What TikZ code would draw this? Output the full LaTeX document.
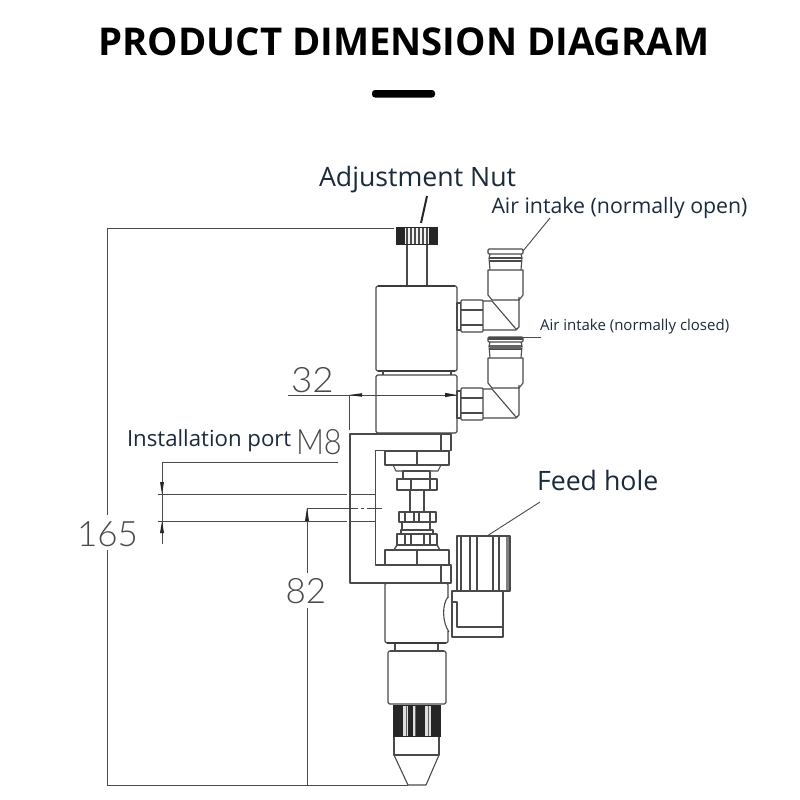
\documentclass[tikz,border=0pt]{standalone}
\usepackage{fontspec}
\setmainfont{Open Sans}
\newfontfamily\cadfont{Lato Light}
\usetikzlibrary{calc}
\definecolor{lbl}{HTML}{1B2B3F}
\definecolor{cad}{HTML}{4A4A4A}
\tikzset{
  part/.style={draw=cad,line width=1.1pt,line join=round},
  partfill/.style={part,fill=white},
  dim/.style={draw=cad,line width=1pt},
  thick part/.style={draw=cad!80!black,line width=2pt},
  tip/.style={fill=black!85},
  stripe/.style={fill=white!75!gray},
  leader/.style={draw=cad,line width=.9pt},
  label/.style={anchor=base west,inner sep=0pt,outer sep=0pt,text=lbl},
  cadtext/.style={anchor=base west,inner sep=0pt,outer sep=0pt,text=cad,font=\cadfont\fontsize{35}{35}\selectfont},
}
\begin{document}
\begin{tikzpicture}[x=1pt,y=-1pt]
\useasboundingbox (0,0) rectangle (800,800);
\fill[white] (0,0) rectangle (800,800);
% title
\node[anchor=base,inner sep=0pt,font=\bfseries\fontsize{38.3}{38.3}\selectfont] (title) at (404,55.5) {PRODUCT DIMENSION DIAGRAM};
\fill[black,rounded corners=3pt] (372,90) rectangle (435,97.5);
% labels
\node[label,font=\fontsize{26.7}{26.7}\selectfont] (adj) at (319,186) {Adjustment Nut};
\node[label,font=\fontsize{21.3}{21.3}\selectfont] (open) at (491.5,213) {Air intake (normally open)};
\node[label,font=\fontsize{15}{15}\selectfont] (closed) at (540,330) {Air intake (normally closed)};
\node[label,font=\fontsize{26.7}{26.7}\selectfont] (feed) at (537,490) {Feed hole};
\node[label,font=\fontsize{22.2}{22.2}\selectfont] (inst) at (127,446) {Installation port};
% CAD text
\node[cadtext] (d165) at (77,546) {165};
\node[cadtext] (d82) at (285.5,603) {82};
\node[cadtext,xscale=1.05] (d32) at (291,392) {32};
\node[cadtext,xscale=.88] (m8) at (296,454) {M8};
% leaders
\coordinate (adjA) at (427,196); \coordinate (adjB) at (421,223);
\draw[leader,line width=2pt,draw=black!85] (adjA) -- (adjB);
\coordinate (openA) at (550,218); \coordinate (openB) at (523,251);
\draw[leader] (openA) -- (openB);
\coordinate (closedA) at (541,337); \coordinate (closedB) at (523,337);
\draw[leader] (closedA) -- (closedB);
\coordinate (feedA) at (540,502); \coordinate (feedB) at (487,536);
\draw[leader] (feedA) -- (feedB);
% dimension 165
\draw[dim] (394,228) -- (107,228) -- (107,515);
\draw[dim] (107,550) -- (107,785) -- (408,785);
% dimension 32
\draw[dim] (288,395) -- (457,395);
\draw[dim] (349,395) -- (349,430);
\fill[tip] (349,395) -- (362,393.2) -- (362,396.8) -- cycle;
\fill[tip] (457,395) -- (445,392.8) -- (445,397.2) -- cycle;
% M8 dimension
\draw[dim] (338,462) -- (162,462) -- (162,544);
\draw[dim] (158,494) -- (347,494);
\draw[dim] (158,521) -- (347,521);
\draw[dim] (350,494) -- (376,494);
\draw[dim] (350,521) -- (376,521);
\fill[tip] (162,494) -- (160,482) -- (164,482) -- cycle;
\fill[tip] (162,521) -- (160,533) -- (164,533) -- cycle;
% 82 dimension
\draw[dim] (307,573) -- (307,508) -- (343,508);
\draw[dim] (343,508) -- (358,508) (361,508) -- (364,508) (367,508) -- (382,508);
\draw[dim] (307,608) -- (307,785);
\fill[tip] (307,508) -- (305,521) -- (309,521) -- cycle;
% adjustment nut
\fill[black!85] (396,227) rectangle (438,245);
\fill[white!90!gray] (405,228) rectangle (429,244);
\foreach \x in {406,410,414,418,422,426} \fill[black!70] (\x,228) rectangle (\x+1.6,244);
% stem
\draw[part] (407,245) -- (407,286) (427,245) -- (427,286);
% upper body
\draw[part,rounded corners=1.5pt] (376,286) rectangle (457,371);
\draw[thick part] (378,370.5) -- (455,370.5);
\draw[thick part,line width=1.5pt] (378,286) -- (455,286);
\draw[part] (383,371) -- (383,375) (451,371) -- (451,375);
% lower body
\draw[part,rounded corners=1.5pt] (376,375) rectangle (457,433);
\draw[thick part,draw=cad!70,line width=2.5pt] (378,433) -- (455,433);
% elbow fittings
\foreach \dy in {0,88}{
  \begin{scope}[shift={(0,\dy)}]
    \draw[part] (457,303) rectangle (461,330);
    \draw[partfill,rounded corners=1pt] (461,300) rectangle (483,332);
    \draw[part] (461,310) -- (483,310) (461,325) -- (483,325);
    \draw[part] (483,301) -- (492,301) -- (516,329) (483,330) -- (516,330) -- (519,327) -- (519,297);
    \draw[part] (488,270) -- (488,295) -- (492,300) -- (519,300) -- (523,295) -- (523,270) -- cycle;
    \draw[part] (490,270) -- (489,258) (521,270) -- (522,258);
    \draw[part,line width=1.5pt] (489,258) -- (522,258) (489,261) -- (522,261);
    \draw[part] (490,254) -- (489,258) (521,254) -- (522,258);
    \draw[part,rounded corners=1pt] (488,249) rectangle (523,254);
  \end{scope}
}
\fill[cad] (488,336.5) rectangle (523,339.5);
\fill[cad!85] (490,345) rectangle (521,349);
% mounting frame
\draw[part] (350,434) -- (451,434) -- (451,450.5) -- (375.7,450.5) -- (375.7,565) -- (451,565) -- (451,583) -- (350,583) -- cycle;
\draw[part] (441,434) -- (441,450.5) (441,565) -- (441,583);
% upper flange
\draw[part] (385,451) rectangle (449,465);
\draw[part] (417,451) -- (417,465);
\draw[part] (393,465) -- (441,465) -- (438,471) -- (396,471) -- cycle;
\draw[part] (403,471) rectangle (430,479);
\draw[part] (397,479) rectangle (437,490);
\draw[part] (411,479) -- (411,490) (430,479) -- (430,490);
\draw[part] (410,490) -- (410,512) (424,490) -- (424,512);
% lower nut
\draw[part] (399,512) rectangle (436,522);
\draw[part] (405,512) -- (405,522) (414,512) -- (414,522) (419,512) -- (419,522) (430,512) -- (430,522);
\draw[part] (402,522) rectangle (430,530);
\draw[part] (401,530) rectangle (433,534);
\draw[part,line width=1.5pt] (397,534) rectangle (437,545);
\draw[part] (405,534) -- (405,545) (411,534) -- (411,545) (424,534) -- (424,545) (430,534) -- (430,545);
\draw[part,line width=1.4pt] (397,545) -- (437,545) -- (440,550) -- (394,550) -- cycle;
\draw[part] (385,550) rectangle (449,565);
\draw[part] (417,550) -- (417,565);
% feed knob
\draw[part] (457,536) rectangle (510,591);
\draw[part] (461,536) -- (461,591) (470,536) -- (470,591) (477,536) -- (477,591) (493,536) -- (493,591) (499,536) -- (499,591);
\draw[draw=cad!70,line width=3pt] (507,537) -- (507,590);
% feed block
\draw[part] (452,591) -- (503,591) -- (503,637) -- (452,637) -- cycle;
\draw[part] (452,602) -- (457,602) -- (457,627) -- (503,627);
% lower body
\draw[part,rounded corners=1.5pt] (385,583) rectangle (448,643);
\fill[white] (446,598) rectangle (450,631);
\draw[part] (448,597) .. controls (442,604) and (442,622) .. (449,632);
\draw[thick part] (387,643) -- (446,643);
\draw[part] (395,644) -- (395,651) (438,644) -- (438,651);
\draw[part] (390,651) -- (444,651);
% nozzle body
\draw[part,rounded corners=1.5pt] (388,651) rectangle (446,704);
% knurl
\fill[black!85] (393,704.5) rectangle (441,737);
\foreach \a/\b in {403/408,413/416,425/431} \fill[stripe] (\a,706) rectangle (\b,736);
\foreach \x in {405.5,414.5,428} \fill[black!60] (\x,706) rectangle (\x+1,736);
% tip
\draw[part] (394,737) -- (394,755) -- (439,755) -- (439,737);
\draw[part] (394,755) -- (408,785) (439,755) -- (426,785) (408,785) -- (426,785);
\end{tikzpicture}
\end{document}
